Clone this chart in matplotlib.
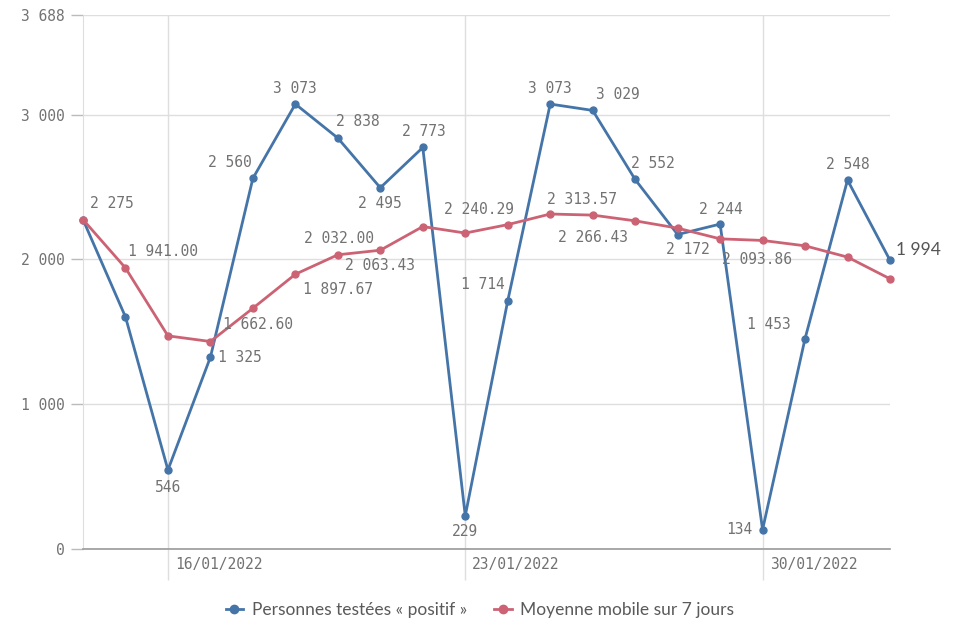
import matplotlib.pyplot as plt
import matplotlib.dates as mdates
from matplotlib.lines import Line2D
import matplotlib.transforms as mtransforms
import pandas as pd

# data
dates = pd.date_range("2022-01-14", "2022-02-02", freq="D")
positifs = [2275, 1603, 546, 1325, 2560, 3073, 2838, 2495, 2773, 229,
            1714, 3073, 3029, 2552, 2172, 2244, 134, 1453, 2548, 1994]
moyenne = [2275, 1941.00, 1472, 1433, 1662.60, 1897.67, 2032.00, 2063.43, 2227, 2182,
           2240.29, 2313.57, 2306, 2266.43, 2216, 2142, 2131, 2093.86, 2016, 1866]
yticks = [0, 1000, 2000, 3000, 3688]
date_ticks = ["2022-01-16", "2022-01-23", "2022-01-30"]
legend_labels = ["Personnes testées « positif »", "Moyenne mobile sur 7 jours"]

BLUE = "#4575a8"
RED = "#cc6374"
GRID = "#dedede"
TXT = "#727272"
MONO = "DejaVu Sans Mono"

# label offsets in pixels (dx, dy) for the shown value labels
blue_lbl = {0: (29, 16), 2: (0, -18), 3: (29, 0), 4: (-23, 16), 5: (0, 16),
            6: (20, 17), 7: (0, -16), 8: (1, 16), 9: (0, -16), 10: (-25, 16),
            11: (0, 16), 12: (25, 16), 13: (18, 16), 14: (10, -15), 15: (1, 15),
            16: (-23, 0), 17: (-36, 14), 18: (0, 16)}
red_lbl = {1: (38, 16), 4: (5, -16), 5: (43, -15), 6: (1, 16), 7: (0, -15),
           10: (-29, 15), 11: (32, 15), 13: (-42, -17), 17: (-48, -14)}


def fmt(v, dec=0):
    s = f"{v:,.{dec}f}"
    return s.replace(",", " ")


fig = plt.figure(figsize=(9.6, 6.25), dpi=100)
ax = fig.add_axes([83 / 960, 1 - 549 / 625, (890 - 83) / 960, (549 - 15) / 625])

ax.plot(dates, positifs, color=BLUE, lw=2.0, marker="o", ms=5, zorder=3, clip_on=False)
ax.plot(dates, moyenne, color=RED, lw=2.0, marker="o", ms=5, zorder=3, clip_on=False)

ax.set_xlim(dates[0], dates[-1])
ax.set_ylim(0, 3688)

# y axis
ax.set_yticks(yticks)
ax.set_yticklabels([fmt(v) for v in yticks], fontfamily=MONO, fontsize=10.5, color=TXT)
ax.tick_params(axis="y", length=9, color="#bbbbbb", width=1, pad=4)
ax.yaxis.grid(True, color=GRID, lw=1)

# x axis: gridlines that run down below the axis, labels right of them
xt = pd.to_datetime(date_ticks)
ax.set_xticks(xt)
ax.set_xticklabels([])
ax.tick_params(axis="x", length=22, color=GRID, width=1)
ax.xaxis.grid(True, color=GRID, lw=1)
trans = mtransforms.blended_transform_factory(ax.transData, ax.transAxes)
for d in xt:
    ax.annotate(d.strftime("%d/%m/%Y"), (mdates.date2num(d), 0), xycoords=trans,
                xytext=(7, -16), textcoords="offset pixels", ha="left", va="center",
                fontfamily=MONO, fontsize=10.5, color=TXT)

for s in ["top", "right"]:
    ax.spines[s].set_visible(False)
ax.spines["left"].set_color(GRID)
ax.spines["bottom"].set_color("#9a9a9a")
ax.spines["bottom"].set_linewidth(1.2)
ax.set_axisbelow(True)

# value labels
for i, (dx, dy) in blue_lbl.items():
    ax.annotate(fmt(positifs[i]), (dates[i], positifs[i]), xytext=(dx, dy),
                textcoords="offset pixels", ha="center", va="center",
                fontfamily=MONO, fontsize=10.5, color=TXT, zorder=4)
for i, (dx, dy) in red_lbl.items():
    ax.annotate(fmt(moyenne[i], 2), (dates[i], moyenne[i]), xytext=(dx, dy),
                textcoords="offset pixels", ha="center", va="center",
                fontfamily=MONO, fontsize=10.5, color=TXT, zorder=4)
ax.annotate(fmt(positifs[-1]), (dates[-1], positifs[-1]), xytext=(6, 10),
            textcoords="offset pixels", ha="left", va="center",
            fontfamily="Lato", fontsize=12.5, color="#555555", annotation_clip=False)

# legend
handles = [Line2D([0], [0], color=BLUE, lw=2, marker="o", ms=6),
           Line2D([0], [0], color=RED, lw=2, marker="o", ms=6)]
fig.legend(handles, legend_labels, loc="center", bbox_to_anchor=(0.5, 1 - 610 / 625),
           ncol=2, frameon=False, handlelength=1.0, handletextpad=0.5, columnspacing=1.6,
           prop={"family": "Lato", "size": 12.5}, labelcolor="#5a5a5a")

fig.savefig("out.png", dpi=100)
